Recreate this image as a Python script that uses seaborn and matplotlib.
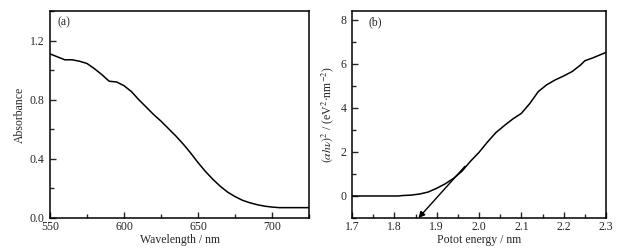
import numpy as np
import pandas as pd
import matplotlib
matplotlib.use("Agg")
import matplotlib.pyplot as plt
import seaborn as sns
from matplotlib.ticker import MultipleLocator, FormatStrFormatter

# Panel (a) data: absorbance spectrum
wavelength = [550, 555, 560, 565, 570, 575, 580, 585, 590, 595, 600, 605, 610, 615,
              620, 625, 630, 635, 640, 645, 650, 655, 660, 665, 670, 675, 680, 685,
              690, 695, 700, 705, 710, 715, 720, 725]
absorbance = [1.11, 1.09, 1.07, 1.07, 1.06, 1.045, 1.01, 0.97, 0.925, 0.92, 0.895, 0.855,
              0.80, 0.75, 0.70, 0.655, 0.605, 0.555, 0.50, 0.44, 0.375, 0.315, 0.262, 0.215,
              0.175, 0.145, 0.12, 0.103, 0.09, 0.08, 0.074, 0.07, 0.07, 0.07, 0.07, 0.07]

# Panel (b) data: Tauc plot
energy = [1.70, 1.75, 1.80, 1.81, 1.82, 1.84, 1.86, 1.88, 1.90, 1.92, 1.94, 1.96, 1.98,
          2.00, 2.02, 2.04, 2.06, 2.08, 2.10, 2.12, 2.14, 2.16, 2.18, 2.20, 2.22, 2.24,
          2.25, 2.27, 2.30]
tauc = [0, 0, 0, 0, 0.02, 0.04, 0.09, 0.18, 0.35, 0.55, 0.80, 1.13, 1.58, 1.98, 2.45,
        2.88, 3.2, 3.5, 3.75, 4.2, 4.74, 5.05, 5.27, 5.45, 5.65, 5.95, 6.14, 6.28, 6.52]

# Tangent extrapolation arrow (start, tip) in data units
arrow_start = (1.967, 1.35)
arrow_tip = (1.857, -1.0)

sns.set_style("ticks")
plt.rcParams['font.family'] = ['Liberation Serif', 'DejaVu Serif']
plt.rcParams['mathtext.fontset'] = 'stix'
FS = 8.5

fig = plt.figure(figsize=(6.17, 2.5), dpi=100)
ax1 = fig.add_axes([50/617, 32/250, 259/617, 207/250])
ax2 = fig.add_axes([352/617, 32/250, 254/617, 207/250])

df_a = pd.DataFrame({"w": wavelength, "a": absorbance})
df_b = pd.DataFrame({"e": energy, "t": tauc})
sns.lineplot(data=df_a, x="w", y="a", ax=ax1, color="black", linewidth=1.1)
sns.lineplot(data=df_b, x="e", y="t", ax=ax2, color="black", linewidth=1.1)

ax1.set_xlim(550, 725)
ax1.set_ylim(0, 1.4)
ax1.xaxis.set_major_locator(MultipleLocator(50))
ax1.xaxis.set_minor_locator(MultipleLocator(25))
ax1.yaxis.set_major_locator(MultipleLocator(0.4))
ax1.yaxis.set_minor_locator(MultipleLocator(0.2))
ax1.yaxis.set_major_formatter(FormatStrFormatter('%.1f'))
ax1.set_xlabel("Wavelength / nm", fontsize=FS, labelpad=1)
ax1.set_ylabel("Absorbance", fontsize=FS, labelpad=3)
ax1.text(0.03, 0.945, "(a)", transform=ax1.transAxes, fontsize=FS, va="center")

ax2.set_xlim(1.7, 2.3)
ax2.set_ylim(-1, 8.4)
ax2.xaxis.set_major_locator(MultipleLocator(0.1))
ax2.xaxis.set_minor_locator(MultipleLocator(0.05))
ax2.xaxis.set_major_formatter(FormatStrFormatter('%.1f'))
ax2.yaxis.set_major_locator(MultipleLocator(2))
ax2.yaxis.set_minor_locator(MultipleLocator(1))
ax2.set_xlabel("Potot energy / nm", fontsize=FS, labelpad=1)
ax2.set_ylabel(r"$(\alpha h\nu)^2$ / (eV$^2$·nm$^{-2}$)", fontsize=FS, labelpad=3)
ax2.text(0.066, 0.945, "(b)", transform=ax2.transAxes, fontsize=FS, va="center")
ax2.annotate("", xy=arrow_tip, xytext=arrow_start,
             arrowprops=dict(arrowstyle="-|>", color="black", lw=1.0,
                             mutation_scale=9, shrinkA=0, shrinkB=0))

for ax in (ax1, ax2):
    for s in ax.spines.values():
        s.set_visible(True)
        s.set_linewidth(1.1)
        s.set_color("black")
    ax.tick_params(which="major", direction="in", length=4, width=1.0,
                   labelsize=FS, top=False, right=False)
    ax.tick_params(which="minor", direction="in", length=3, width=1.0,
                   top=False, right=False)
    ax.tick_params(axis="x", pad=2)
    ax.tick_params(axis="y", pad=4)

fig.savefig("out.png", dpi=100)
